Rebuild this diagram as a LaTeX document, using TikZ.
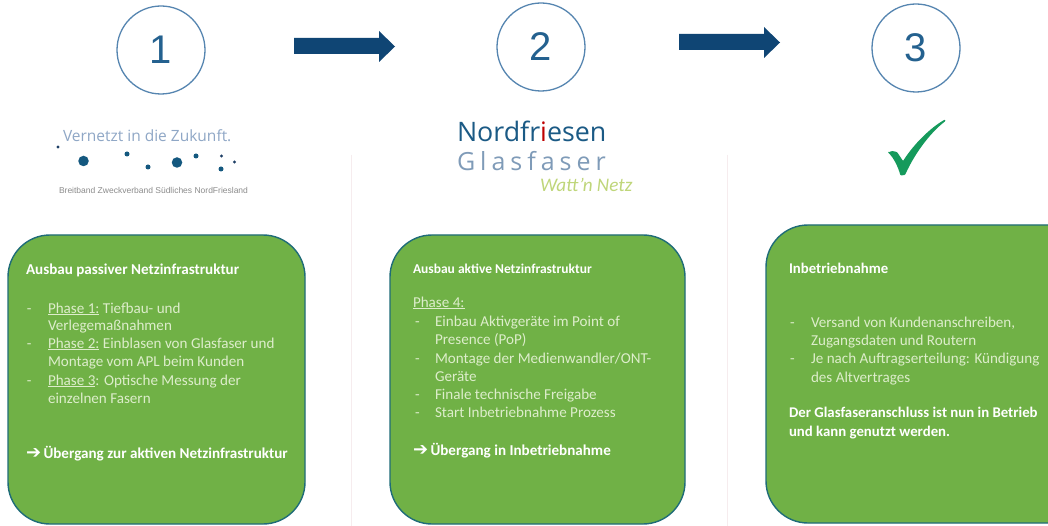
\documentclass[tikz,border=0pt]{standalone}
\usepackage{fontspec}
\setmainfont{Carlito}
\newfontfamily\arrowfont{DejaVu Sans}
\newfontfamily\numfont{Liberation Sans}
\newfontfamily\logofont{Open Sans}
\newfontfamily\gfont[LetterSpace=20]{Open Sans}
\newfontfamily\smallfont{Liberation Sans}
\definecolor{boxgreen}{HTML}{70B146}
\definecolor{boxedge}{HTML}{1F6C78}
\definecolor{ringblue}{HTML}{5585B0}
\definecolor{numblue}{HTML}{24618F}
\definecolor{navy}{HTML}{0F4574}
\definecolor{bodytxt}{HTML}{DDEDCB}
\definecolor{logoblue}{HTML}{8FA7C6}
\definecolor{dotblue}{HTML}{14587F}
\definecolor{dotdark}{HTML}{1E3F66}
\definecolor{nordblue}{HTML}{1B5A85}
\definecolor{glasgrey}{HTML}{7F9BB8}
\definecolor{wattgreen}{HTML}{BFD67A}
\definecolor{sepcol}{HTML}{F6ECEE}
\definecolor{checkgreen}{HTML}{159A5C}
\definecolor{tinygrey}{HTML}{8C8C8C}
\tikzset{
  x=1pt,y=-1pt,
  panel/.style={draw=boxedge,line width=1.4pt,fill=boxgreen,rounded corners=42pt},
  ring/.style={circle,draw=ringblue,line width=1.3pt,minimum size=88pt,inner sep=0pt,
    font=\numfont\fontsize{40}{40}\selectfont,text=numblue},
  flow/.style={fill=navy,draw=none},
  txt/.style={anchor=base west,inner sep=0pt,outer sep=0pt,text=bodytxt,
    font=\fontsize{15.1}{17}\selectfont},
  head/.style={txt,text=white,font=\bfseries\fontsize{15.1}{17}\selectfont},
  headthree/.style={txt,text=white,font=\bfseries\fontsize{14.8}{17}\selectfont},
  headsmall/.style={txt,text=white,font=\bfseries\fontsize{13.5}{15}\selectfont},
  sep/.style={draw=sepcol,line width=1pt},
  bigdot/.style={circle,fill=dotblue,inner sep=0pt,minimum size=10.5pt},
  middot/.style={circle,fill=dotblue,inner sep=0pt,minimum size=5pt},
  tinydot/.style={circle,fill=dotdark,inner sep=0pt,minimum size=3.2pt},
}
\newcommand{\ar}{\makebox[17.5pt][l]{\arrowfont\fontsize{18}{18}\selectfont\char"2794}}
\begin{document}
\begin{tikzpicture}
\useasboundingbox (0,0) rectangle (1048,526);
\fill[white] (0,0) rectangle (1048,526);
% separators
\draw[sep] (351,155) -- (351,526);
\draw[sep] (727,155) -- (727,526);
% numbers
\node[ring] (n1) at (161,50) {1};
\node[ring] (n2) at (541,47) {2};
\node[ring] (n3) at (916,48) {3};
% arrows
\fill[flow] (294,38) -- (379,38) -- (379,31) -- (395,46.5) -- (379,62) -- (379,54) -- (294,54) -- cycle;
\fill[flow] (679,34) -- (764,34) -- (764,27) -- (780,42.5) -- (764,58) -- (764,50) -- (679,50) -- cycle;
% logo 1
\node[txt,text=logoblue,font=\logofont\fontsize{15.5}{18}\selectfont] (l1) at (63,142) {Vernetzt in die Zukunft.};
\node[tinydot] (d1) at (58,147) {};
\node[bigdot] (d2) at (83.5,161) {};
\node[middot] (d3) at (127,154) {};
\node[middot] (d4) at (148,167) {};
\node[bigdot] (d5) at (177,162.5) {};
\node[middot] (d6) at (196,156) {};
\node[tinydot] (d7) at (221.5,156) {};
\node[tinydot] (d8) at (234.5,162) {};
\node[middot] (d9) at (221,169) {};
\node[txt,text=tinygrey,font=\smallfont\fontsize{8.5}{9}\selectfont] (l2) at (59,194) {Breitband Zweckverband Südliches NordFriesland};
% logo 2
\node[txt,text=nordblue,font=\logofont\fontsize{26.8}{28}\selectfont] (l3) at (457,142) {Nordfr\textcolor{red!75!black}{i}esen};
\node[txt,text=glasgrey,font=\gfont\fontsize{25}{28}\selectfont] (l4) at (457,171) {Glasfaser};
\node[txt,text=wattgreen,font=\itshape\fontsize{19.2}{20}\selectfont] (l5) at (540,192) {Watt'n Netz};
% check
\fill[checkgreen,rounded corners=0.8pt] (888,152.5) -- (892,151) -- (897,152) -- (903,161)
  .. controls (914,144) and (930,128) .. (945,119.5) -- (945.5,121)
  .. controls (930,133) and (915,153) .. (905,175) -- (900.5,175.5)
  .. controls (898,167) and (894,158) .. cycle;
% panels
\draw[panel] (8,235) rectangle (305,524);
\draw[panel] (390,235) rectangle (685,524);
\draw[panel] (766,225) rectangle (1090,523);
% panel 1
\node[head] (a0) at (26,275) {Ausbau passiver Netzinfrastruktur};
\node[txt] (a1d) at (27,313) {-};
\node[txt] (a1) at (48,313) {\underline{Phase 1:} Tiefbau- und};
\node[txt] (a2) at (48,330) {Verlegemaßnahmen};
\node[txt] (a3d) at (27,348) {-};
\node[txt] (a3) at (48,348) {\underline{Phase 2:} Einblasen von Glasfaser und};
\node[txt] (a4) at (48,366) {Montage vom APL beim Kunden};
\node[txt] (a5d) at (27,385) {-};
\node[txt] (a5) at (48,385) {\underline{Phase 3}: Optische Messung der};
\node[txt] (a6) at (48,403) {einzelnen Fasern};
\node[head] (a7) at (26,458) {\ar Übergang zur aktiven Netzinfrastruktur};
% panel 2
\node[headsmall] (b0) at (413,273) {Ausbau aktive Netzinfrastruktur};
\node[txt] (b1) at (413,307) {\underline{Phase 4:}};
\node[txt] (b2d) at (415,326) {-};
\node[txt] (b2) at (435,326) {Einbau Aktivgeräte im Point of};
\node[txt] (b3) at (435,344) {Presence (PoP)};
\node[txt] (b4d) at (415,363) {-};
\node[txt] (b4) at (435,363) {Montage der Medienwandler/ONT-};
\node[txt] (b5) at (435,381) {Geräte};
\node[txt] (b6d) at (415,399) {-};
\node[txt] (b6) at (435,399) {Finale technische Freigabe};
\node[txt] (b7d) at (415,417) {-};
\node[txt] (b7) at (435,417) {Start Inbetriebnahme Prozess};
\node[head] (b8) at (413,455) {\ar Übergang in Inbetriebnahme};
% panel 3
\node[headthree] (c0) at (789,273) {Inbetriebnahme};
\node[txt] (c1d) at (790,327) {-};
\node[txt] (c1) at (811,327) {Versand von Kundenanschreiben,};
\node[txt] (c2) at (811,345) {Zugangsdaten und Routern};
\node[txt] (c3d) at (790,363) {-};
\node[txt] (c3) at (811,363) {Je nach Auftragserteilung: Kündigung};
\node[txt] (c4) at (811,382) {des Altvertrages};
\node[headthree] (c5) at (789,417) {Der Glasfaseranschluss ist nun in Betrieb};
\node[headthree] (c6) at (789,436) {und kann genutzt werden.};
\end{tikzpicture}
\end{document}
